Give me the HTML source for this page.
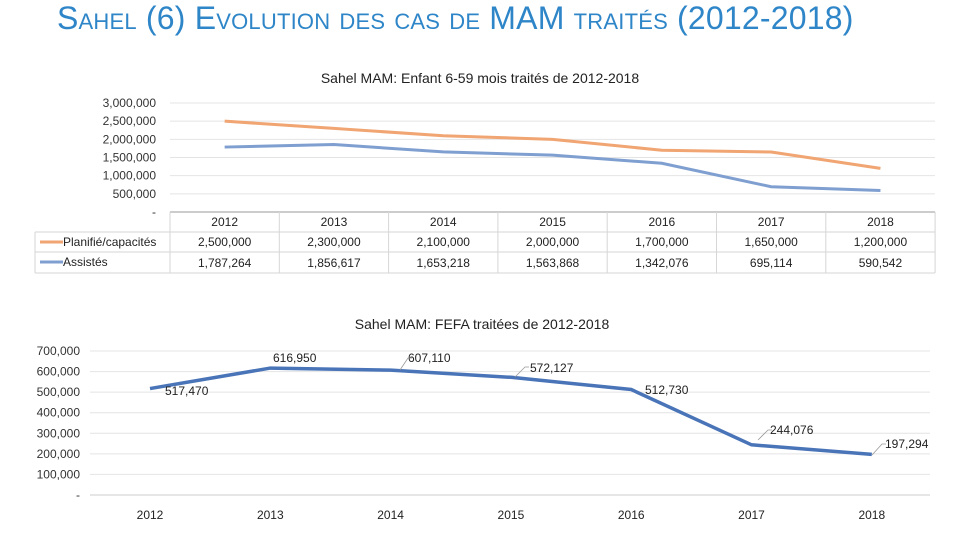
<!DOCTYPE html>
<html><head><meta charset="utf-8"><style>
body{margin:0;width:960px;height:540px;background:#fff;overflow:hidden;font-family:"Liberation Sans",sans-serif}
#title{position:absolute;left:57px;top:0px;font-size:32px;color:#2e86c8;font-variant:small-caps;white-space:nowrap;letter-spacing:0.2px}
svg{position:absolute;left:0;top:0}
</style></head><body>
<div id="title">Sahel (6) Evolution des cas de MAM traités (2012-2018)</div>
<svg id="c" width="960" height="540"></svg>
<script>
const years=["2012","2013","2014","2015","2016","2017","2018"];
const planned=[2500000,2300000,2100000,2000000,1700000,1650000,1200000];
const assisted=[1787264,1856617,1653218,1563868,1342076,695114,590542];
const topTicks=[0,500000,1000000,1500000,2000000,2500000,3000000];
const fefa=[517470,616950,607110,572127,512730,244076,197294];
const botTicks=[0,100000,200000,300000,400000,500000,600000,700000];
const NS="http://www.w3.org/2000/svg";
const svg=document.getElementById('c');
function mk(t,a,txt){const e=document.createElementNS(NS,t);for(const k in a)e.setAttribute(k,a[k]);if(txt!==undefined)e.textContent=txt;svg.appendChild(e);return e;}
function fmt(v){return v===0?"-":v.toLocaleString('en-US');}
// top chart
const tx=i=>170+109.3*(i+0.5), ty=v=>212-v/3000000*109;
mk('text',{x:480,y:83,'text-anchor':'middle','font-size':14,fill:'#222'},'Sahel MAM: Enfant 6-59 mois traités de 2012-2018');
topTicks.forEach(v=>{
 if(v>0){const g=mk('line',{x1:170,x2:935,y1:ty(v),y2:ty(v),stroke:'#e4e4e4'});}
 const t=mk('text',{x:156,y:ty(v)+4,'text-anchor':'end','font-size':12,fill:'#333'},fmt(v));
 
});
// table
mk('line',{x1:170,x2:935,y1:212,y2:212,stroke:'#bbb','stroke-width':1.5});
[[35,232],[35,252],[35,273]].forEach(r=>mk('line',{x1:r[0],x2:935,y1:r[1],y2:r[1],stroke:'#d6d6d6'}));
mk('line',{x1:35,x2:35,y1:232,y2:273,stroke:'#d6d6d6'});
for(let i=0;i<=7;i++)mk('line',{x1:170+109.3*i,x2:170+109.3*i,y1:212,y2:273,stroke:'#d6d6d6'});
years.forEach((y,i)=>{
 const t=mk('text',{x:tx(i),y:226,'text-anchor':'middle','font-size':12,fill:'#222'},y);
 const a=mk('text',{x:tx(i),y:246,'text-anchor':'middle','font-size':12,fill:'#222'},fmt(planned[i]));
 const b=mk('text',{x:tx(i),y:267,'text-anchor':'middle','font-size':12,fill:'#222'},fmt(assisted[i]));
});
mk('line',{x1:40,x2:63,y1:242,y2:242,stroke:'#f0a572','stroke-width':3});
mk('text',{x:63,y:246,'font-size':12,fill:'#222'},'Planifié/capacités');
mk('line',{x1:40,x2:63,y1:262,y2:262,stroke:'#7f9fd0','stroke-width':3});
mk('text',{x:63,y:266,'font-size':12,fill:'#222'},'Assistés');
const p1=mk('polyline',{points:planned.map((v,i)=>tx(i)+','+ty(v)).join(' '),fill:'none',stroke:'#f0a572','stroke-width':3});

const p2=mk('polyline',{points:assisted.map((v,i)=>tx(i)+','+ty(v)).join(' '),fill:'none',stroke:'#7f9fd0','stroke-width':3});

// bottom chart
const bx=i=>150+120.3*i, by=v=>495-v/700000*144;
mk('text',{x:482,y:329,'text-anchor':'middle','font-size':14,fill:'#222'},'Sahel MAM: FEFA traitées de 2012-2018');
botTicks.forEach(v=>{
 const g=mk('line',{x1:90,x2:930,y1:by(v),y2:by(v),stroke:v===0?'#ccc':'#e4e4e4'});
 const t=mk('text',{x:80,y:by(v)+4,'text-anchor':'end','font-size':12,fill:'#333'},fmt(v));
});
years.forEach((y,i)=>{const t=mk('text',{x:bx(i),y:519,'text-anchor':'middle','font-size':12,fill:'#222'},y);});
const p3=mk('polyline',{points:fefa.map((v,i)=>bx(i)+','+by(v)).join(' '),fill:'none',stroke:'#4a74b8','stroke-width':3.5});

const lab=[[165,395],[273,362],[408,362],[530,372],[645,394],[770,434],[885,448]];
fefa.forEach((v,i)=>{const t=mk('text',{x:lab[i][0],y:lab[i][1],'font-size':12,fill:'#222'},fmt(v));});
// leader lines
[[400,370,408,358],[515,377,525,367],[758,440,768,430],[872,455,882,444]].forEach(l=>mk('polyline',{points:`${l[0]},${l[1]} ${l[2]},${l[3]} ${l[2]+4},${l[3]}`,fill:'none',stroke:'#999','stroke-width':0.8}));
</script>
</body></html>
